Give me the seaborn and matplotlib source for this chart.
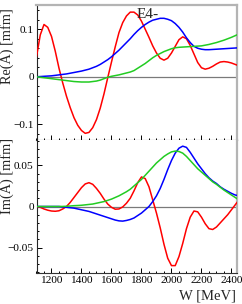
import numpy as np
import pandas as pd
import matplotlib
matplotlib.use("Agg")
import matplotlib.pyplot as plt
from matplotlib.ticker import MultipleLocator, FuncFormatter
import seaborn as sns

# energy grid [MeV], 1100 ... 2450 in 25 MeV steps
w = list(range(1100, 2451, 25))

# Re(A) [mfm]
re_red = [0.042, 0.088, 0.110, 0.104, 0.085, 0.054, 0.018, -0.013, -0.041, -0.065,
          -0.086, -0.102, -0.113, -0.119, -0.117, -0.107, -0.090, -0.066, -0.036, -0.002,
          0.031, 0.063, 0.093, 0.114, 0.128, 0.136, 0.136, 0.130, 0.117, 0.100,
          0.083, 0.065, 0.050, 0.039, 0.035, 0.039, 0.050, 0.064, 0.078, 0.084,
          0.080, 0.066, 0.048, 0.030, 0.019, 0.016, 0.018, 0.022, 0.027, 0.031,
          0.032, 0.031, 0.029, 0.026, 0.023]
re_blue = [0.000, 0.0005, 0.001, 0.0015, 0.002, 0.003, 0.004, 0.005, 0.006, 0.0075,
           0.009, 0.0105, 0.012, 0.014, 0.016, 0.019, 0.022, 0.026, 0.031, 0.036,
           0.042, 0.049, 0.056, 0.064, 0.072, 0.080, 0.089, 0.097, 0.104, 0.110,
           0.115, 0.119, 0.121, 0.123, 0.123, 0.121, 0.118, 0.112, 0.104, 0.094,
           0.082, 0.072, 0.064, 0.060, 0.058, 0.057, 0.057, 0.0575, 0.058, 0.0585,
           0.059, 0.0595, 0.060, 0.0605, 0.061]
re_green = [0.000, -0.001, -0.002, -0.003, -0.004, -0.005, -0.006, -0.007, -0.008, -0.009,
            -0.010, -0.0105, -0.011, -0.011, -0.011, -0.010, -0.009, -0.007, -0.004, -0.001,
            0.001, 0.0025, 0.004, 0.006, 0.008, 0.010, 0.013, 0.018, 0.023, 0.028,
            0.034, 0.040, 0.045, 0.049, 0.053, 0.056, 0.059, 0.061, 0.062, 0.0625,
            0.063, 0.0635, 0.064, 0.0645, 0.065, 0.0665, 0.068, 0.070, 0.072, 0.0745,
            0.077, 0.080, 0.083, 0.0865, 0.090]

# Im(A) [mfm]
im_red = [0.000, -0.001, -0.003, -0.0045, -0.0055, -0.0058, -0.0052, -0.003, 0.000, 0.005,
          0.011, 0.017, 0.023, 0.0275, 0.029, 0.027, 0.022, 0.016, 0.009, 0.003,
          -0.001, -0.0033, -0.003, -0.0005, 0.004, 0.010, 0.019, 0.029, 0.036, 0.034,
          0.024, 0.008, -0.008, -0.026, -0.046, -0.063, -0.072, -0.072, -0.061, -0.045,
          -0.027, -0.013, -0.0055, -0.0065, -0.013, -0.021, -0.027, -0.028, -0.025, -0.020,
          -0.015, -0.010, -0.004, 0.002, 0.008]
im_blue = [0.000, 0.000, 0.000, 0.000, 0.000, 0.000, 0.000, -0.0005, -0.001, -0.0015,
           -0.002, -0.003, -0.004, -0.005, -0.006, -0.0075, -0.009, -0.0105, -0.012, -0.0135,
           -0.015, -0.0165, -0.0175, -0.0178, -0.017, -0.0158, -0.014, -0.011, -0.008, -0.004,
           0.000, 0.006, 0.013, 0.022, 0.033, 0.045, 0.056, 0.065, 0.071, 0.0735,
           0.072, 0.066, 0.059, 0.052, 0.046, 0.040, 0.035, 0.031, 0.028, 0.024,
           0.021, 0.0185, 0.016, 0.014, 0.013]
im_green = [0.000, 0.000, 0.000, 0.000, 0.000, 0.000, 0.000, 0.0001, 0.0003, 0.0006,
            0.001, 0.0012, 0.0015, 0.002, 0.0025, 0.003, 0.004, 0.005, 0.006, 0.0075,
            0.009, 0.011, 0.013, 0.0155, 0.018, 0.021, 0.025, 0.029, 0.033, 0.038,
            0.043, 0.048, 0.053, 0.057, 0.061, 0.064, 0.0665, 0.0675, 0.067, 0.065,
            0.061, 0.056, 0.051, 0.046, 0.042, 0.038, 0.034, 0.030, 0.027, 0.0235,
            0.020, 0.017, 0.014, 0.011, 0.008]

df = pd.DataFrame({"W": w, "re_red": re_red, "re_blue": re_blue, "re_green": re_green,
                   "im_red": im_red, "im_blue": im_blue, "im_green": im_green})

sns.set_style("ticks")
plt.rcParams["font.family"] = ["Liberation Serif", "DejaVu Serif"]

RED, BLUE, GREEN = "#ff0000", "#0000ff", "#22cc22"
FRAME = "#b4b4b4"

fig = plt.figure(figsize=(2.42, 3.04), dpi=100)
L, R = 36.5 / 242, 236.7 / 242
ax1 = fig.add_axes([L, 1 - 140 / 304, R - L, (140 - 5) / 304])
ax2 = fig.add_axes([L, 1 - 273 / 304, R - L, (273 - 140) / 304])


def fmt(v, pos):
    s = "%g" % round(v, 4)
    if s in ("-0", "0"):
        return "0"
    return s.replace("-", "\u2212")


for ax, cols, lim, major, minor in [
        (ax1, ["re_red", "re_blue", "re_green"], (-0.133, 0.151), 0.1, 0.02),
        (ax2, ["im_red", "im_blue", "im_green"], (-0.081, 0.081), 0.05, 0.01)]:
    ax.axhline(0, color="#7a7a7a", lw=0.9, zorder=1)
    for c, col in zip(cols, [RED, BLUE, GREEN]):
        sns.lineplot(data=df, x="W", y=c, color=col, lw=1.1, ax=ax, zorder=3)
    ax.set_xlim(1100, 2435)
    ax.set_ylim(*lim)
    ax.xaxis.set_major_locator(MultipleLocator(200))
    ax.xaxis.set_minor_locator(MultipleLocator(50))
    ax.yaxis.set_major_locator(MultipleLocator(major))
    ax.yaxis.set_minor_locator(MultipleLocator(minor))
    ax.yaxis.set_major_formatter(FuncFormatter(fmt))
    ax.tick_params(which="both", direction="in", top=False, right=False,
                   labelsize=8.2, pad=2, width=0.7, colors="black")
    ax.tick_params(which="major", length=3.4)
    ax.tick_params(which="minor", length=1.7)
    ax.set_xlabel("")
    ax.set_ylabel("")
    ax.spines["left"].set_linewidth(0.8)
    ax.spines["bottom"].set_linewidth(0.8)
    ax.spines["bottom"].set_color("#333333")
    ax.spines["right"].set_color(FRAME)
    ax.spines["right"].set_linewidth(1.6)
    ax.spines["top"].set_color(FRAME)
    ax.spines["top"].set_linewidth(1.6)
    ax.set_facecolor("white")

ax2.spines["top"].set_visible(False)
ax1.tick_params(axis="x", labelbottom=False)
ax2.xaxis.set_major_formatter(FuncFormatter(lambda v, p: "%d" % v))

ax1.text(1769, 0.123, "E4-", fontsize=11, ha="left", va="baseline")

fig.text(7 / 242, 1 - 8 / 304, "Re(A) [mfm]", rotation=90, fontsize=10.3,
         ha="center", va="top")
fig.text(7 / 242, 1 - 138 / 304, "Im(A) [mfm]", rotation=90, fontsize=10.3,
         ha="center", va="top")
fig.text(236 / 242, 1 - 300 / 304, "W [MeV]", fontsize=10.5, ha="right", va="baseline")

fig.savefig("out.png", dpi=100, facecolor="white")
